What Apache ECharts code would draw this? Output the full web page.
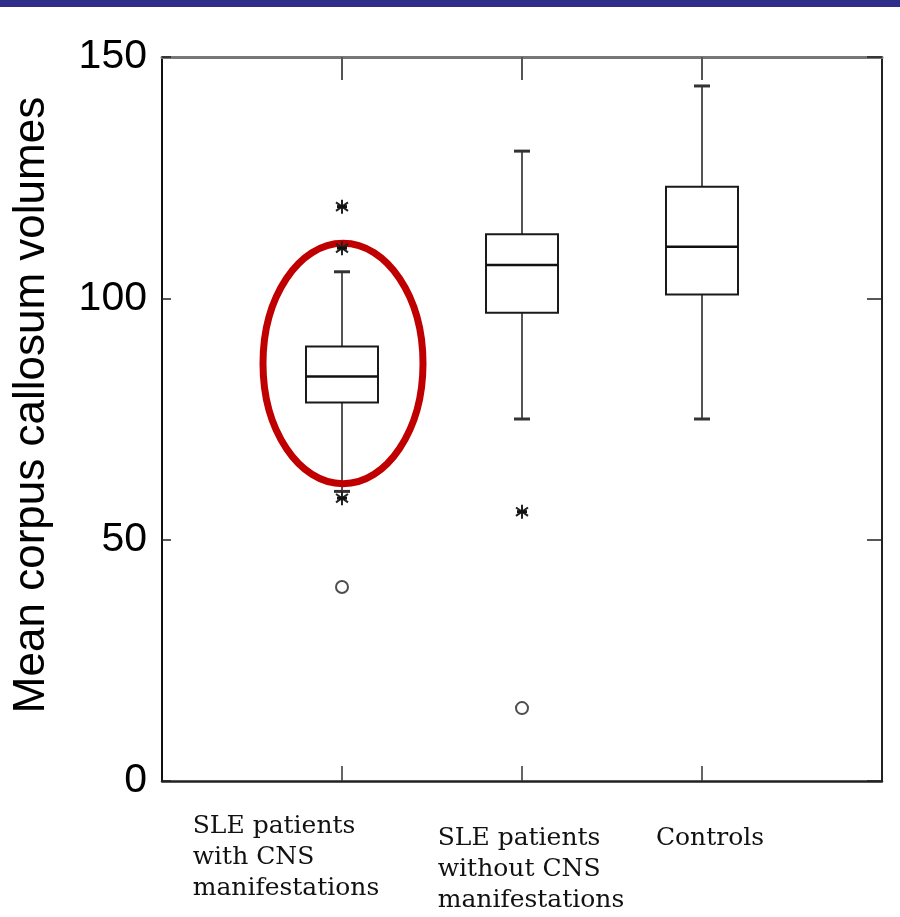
<!DOCTYPE html>
<html>
<head>
<meta charset="utf-8">
<script src="https://cdn.jsdelivr.net/npm/echarts@6/dist/echarts.min.js"></script>
<style>html,body{margin:0;padding:0;background:#fff;}#main{width:900px;height:917px;}</style>
</head>
<body>
<div id="main"></div>
<script>
// ---- data ----
var categories = ['', 'SLE patients\nwith CNS\nmanifestations', 'SLE patients\nwithout CNS\nmanifestations', 'Controls', ''];
var groupIndex = [1, 2, 3];
var lowerWhisker = [60, 75, 75];
var q1 = [78.4, 97.0, 100.8];
var median = [83.8, 106.9, 110.7];
var q3 = [90.0, 113.3, 123.1];
var upperWhisker = [105.5, 130.5, 144.0];
var starOutliers = [[1, 119.0], [1, 110.4], [1, 58.6], [2, 55.8]];
var circleOutliers = [[1, 40.2], [2, 15.1]];
var yTicks = [0, 50, 100, 150];
var highlightCenter = [1, 86.5];
var highlightHalfHeight = 24.9;
var yTitle = 'Mean corpus callosum volumes';

var boxData = groupIndex.map(function (g, i) {
  return [g, lowerWhisker[i], q1[i], median[i], q3[i], upperWhisker[i]];
});

var chart = echarts.init(document.getElementById('main'), null, {renderer: 'canvas'});

var labelStyleNames = ['', 'c1', 'c2', 'c3', ''];

var option = {
  animation: false,
  backgroundColor: '#ffffff',
  graphic: [{
    type: 'rect', left: 0, top: 0, z: 10,
    shape: {width: 900, height: 7},
    style: {fill: '#2E2E88'}
  }],
  grid: {left: 162, right: 18, top: 57, bottom: 136, containLabel: false},
  xAxis: [{
    type: 'category', data: categories, boundaryGap: false, position: 'bottom',
    axisLine: {onZero: false, lineStyle: {color: '#222', width: 2.5}},
    axisTick: {inside: true, length: 15, lineStyle: {color: '#333', width: 1.5},
      interval: function (idx) { return idx >= 1 && idx <= 3; }},
    axisLabel: {
      interval: 0, margin: 30,
      formatter: function (value, index) {
        var s = labelStyleNames[index];
        if (!s || !value) return '';
        var lines = value.split('\n').map(function (l) { return '{' + s + '|' + l + '}'; });
        if (s !== 'c1') lines.unshift('{sp| }');
        return lines.join('\n');
      },
      rich: {
        sp: {fontSize: 2, lineHeight: 12},
        c1: {fontFamily: 'DejaVu Serif', fontSize: 25, lineHeight: 31, color: '#111', align: 'left', padding: [0, 112, 0, 0]},
        c2: {fontFamily: 'DejaVu Serif', fontSize: 25, lineHeight: 31, color: '#111', align: 'left', padding: [0, 0, 0, 18]},
        c3: {fontFamily: 'DejaVu Serif', fontSize: 25, lineHeight: 31, color: '#111', align: 'left', padding: [0, 0, 0, 16]}
      }
    },
    splitLine: {show: false}
  }, {
    type: 'category', data: categories, boundaryGap: false, position: 'top',
    axisLine: {onZero: false, lineStyle: {color: '#777', width: 3}},
    axisTick: {inside: true, length: 23, lineStyle: {color: '#555', width: 2},
      interval: function (idx) { return idx >= 1 && idx <= 3; }},
    axisLabel: {show: false},
    splitLine: {show: false}
  }],
  yAxis: [{
    type: 'value', min: 0, max: 150, interval: 50, position: 'left',
    name: yTitle, nameLocation: 'middle', nameRotate: 90, nameGap: 108,
    nameTextStyle: {fontFamily: 'Liberation Sans', fontSize: 44, color: '#000', padding: [0, 0, 0, 28]},
    axisLine: {show: true, onZero: false, lineStyle: {color: '#111', width: 2}},
    axisTick: {show: true, inside: true, length: 9, lineStyle: {color: '#222', width: 1.5}},
    axisLabel: {margin: 15, fontFamily: 'Liberation Sans', fontSize: 41, color: '#000',
      formatter: function (v) { return yTicks.indexOf(v) >= 0 ? String(v) : ''; }},
    splitLine: {show: false}
  }, {
    type: 'value', min: 0, max: 150, interval: 50, position: 'right',
    axisLine: {show: true, onZero: false, lineStyle: {color: '#222', width: 2}},
    axisTick: {show: true, inside: true, length: 15, lineStyle: {color: '#222', width: 1.5}},
    axisLabel: {show: false},
    splitLine: {show: false}
  }],
  series: [{
    type: 'custom', name: 'box', z: 2,
    data: boxData,
    encode: {x: 0, y: [1, 2, 3, 4, 5]},
    renderItem: function (params, api) {
      var x = api.value(0);
      var pLow = api.coord([x, api.value(1)]);
      var pQ1 = api.coord([x, api.value(2)]);
      var pMed = api.coord([x, api.value(3)]);
      var pQ3 = api.coord([x, api.value(4)]);
      var pHigh = api.coord([x, api.value(5)]);
      var bw = api.size([1, 0])[0] * 0.4;
      var cap = 8;
      var cx = pMed[0];
      var wStyle = {stroke: '#555', lineWidth: 2};
      return {type: 'group', children: [
        {type: 'line', shape: {x1: cx, y1: pHigh[1], x2: cx, y2: pQ3[1]}, style: wStyle},
        {type: 'line', shape: {x1: cx, y1: pQ1[1], x2: cx, y2: pLow[1]}, style: wStyle},
        {type: 'line', shape: {x1: cx - cap, y1: pHigh[1], x2: cx + cap, y2: pHigh[1]}, style: {stroke: '#333', lineWidth: 3}},
        {type: 'line', shape: {x1: cx - cap, y1: pLow[1], x2: cx + cap, y2: pLow[1]}, style: {stroke: '#333', lineWidth: 3}},
        {type: 'rect', shape: {x: cx - bw / 2, y: pQ3[1], width: bw, height: pQ1[1] - pQ3[1]}, style: {fill: '#fff', stroke: '#1a1a1a', lineWidth: 2}},
        {type: 'line', shape: {x1: cx - bw / 2, y1: pMed[1], x2: cx + bw / 2, y2: pMed[1]}, style: {stroke: '#111', lineWidth: 2.5}}
      ]};
    }
  }, {
    type: 'custom', name: 'highlight', z: 3,
    data: [highlightCenter],
    encode: {x: 0, y: 1},
    renderItem: function (params, api) {
      var p = api.coord([api.value(0), api.value(1)]);
      var ry = api.size([0, highlightHalfHeight])[1];
      var rx = 80;
      return {type: 'ellipse', shape: {cx: p[0] + 1, cy: p[1], rx: rx, ry: ry},
        style: {fill: 'none', stroke: '#C00000', lineWidth: 7}};
    }
  }, {
    type: 'scatter', name: 'circles', z: 4,
    data: circleOutliers,
    symbol: 'emptyCircle', symbolSize: 12,
    itemStyle: {color: '#222', borderColor: '#222', borderWidth: 2.2}
  }, {
    type: 'custom', name: 'stars', z: 5,
    data: starOutliers,
    encode: {x: 0, y: 1},
    renderItem: function (params, api) {
      var p = api.coord([api.value(0), api.value(1)]);
      var st = {stroke: '#222', lineWidth: 2};
      var r = 7, d = 6;
      return {type: 'group', children: [
        {type: 'line', shape: {x1: p[0], y1: p[1] - r, x2: p[0], y2: p[1] + r}, style: st},
        {type: 'line', shape: {x1: p[0] - d, y1: p[1] - d * 0.7, x2: p[0] + d, y2: p[1] + d * 0.7}, style: st},
        {type: 'line', shape: {x1: p[0] - d, y1: p[1] + d * 0.7, x2: p[0] + d, y2: p[1] - d * 0.7}, style: st},
        {type: 'line', shape: {x1: p[0] - d + 1, y1: p[1], x2: p[0] + d - 1, y2: p[1]}, style: {stroke: '#111', lineWidth: 3}}
      ]};
    }
  }]
};
chart.setOption(option);
</script>
</body>
</html>
